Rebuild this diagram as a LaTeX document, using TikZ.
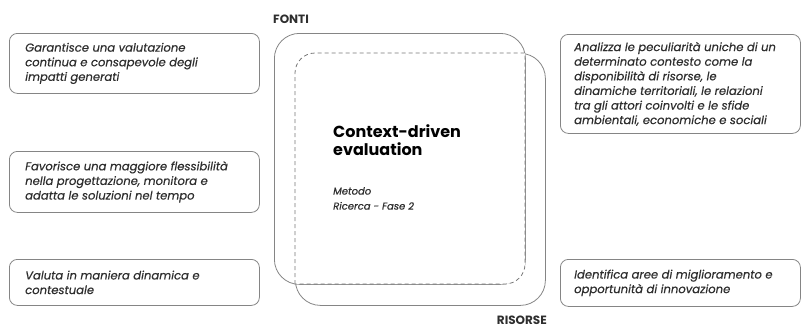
\documentclass[tikz,border=0pt]{standalone}
\usepackage{fontspec}
\setmainfont{Poppins}
\newfontfamily\mediumfam{Poppins}[FakeBold=0.4]
\definecolor{boxline}{HTML}{858585}
\definecolor{txt}{HTML}{2E2E2E}
\tikzset{
  x=1pt, y=-1pt,
  infobox/.style={draw=boxline, line width=0.8pt, rounded corners=8pt, anchor=north west, inner sep=0pt},
  infotext/.style={anchor=west, align=left, text=txt, inner sep=0pt,
    font=\mediumfam\fontsize{11.6}{14.6}\selectfont\itshape},
  bigbox/.style={draw=boxline, line width=0.8pt, rounded corners=25pt, anchor=north west, inner sep=0pt},
  dashline/.style={draw=boxline!90!black, line width=0.8pt, dash pattern=on 4pt off 3pt, fill=white},
  lbl/.style={font=\fontsize{12}{14}\selectfont\bfseries, text=txt, inner sep=0pt}
}
\begin{document}
\begin{tikzpicture}
\useasboundingbox (0,0) rectangle (803,327);
% central shapes
\node[bigbox, minimum width=251pt, minimum height=251pt] (fonti) at (274,33) {};
\node[bigbox, minimum width=250pt, minimum height=252pt] (risorse) at (295,53) {};
\draw[dashline] (295,284) -- (295,73) arc[start angle=180, end angle=270, radius=20]
  -- (525,53) -- (525,264) arc[start angle=0, end angle=90, radius=20] -- cycle;
\node[lbl, anchor=west] (fontilbl) at (273,19) {FONTI};
\node[lbl, anchor=east] (risorselbl) at (547,320) {RISORSE};
\node[anchor=north west, align=left, inner sep=0pt, text=black, font=\fontsize{16}{18.5}\selectfont\bfseries] (title) at (333,124) {Context-driven\\evaluation};
\node[anchor=north west, align=left, inner sep=0pt, text=txt, font=\mediumfam\fontsize{10}{15}\selectfont\itshape] (sub) at (333,187) {Metodo\\Ricerca - Fase 2};
% left boxes
\node[infobox, minimum width=250pt, minimum height=60pt] (l1) at (9,33) {};
\node[infotext] (l1t) at ([xshift=16pt]l1.west) {Garantisce una valutazione\\continua e consapevole degli\\impatti generati};
\node[infobox, minimum width=250pt, minimum height=61pt] (l2) at (9,151) {};
\node[infotext] (l2t) at ([xshift=16pt]l2.west) {Favorisce una maggiore flessibilità\\nella progettazione, monitora e\\adatta le soluzioni nel tempo};
\node[infobox, minimum width=250pt, minimum height=46pt] (l3) at (9,259) {};
\node[infotext] (l3t) at ([xshift=16pt]l3.west) {Valuta in maniera dinamica e\\contestuale};
% right boxes
\node[infobox, minimum width=240pt, minimum height=99pt] (r1) at (560,34) {};
\node[infotext] (r1t) at ([xshift=14pt]r1.west) {Analizza le peculiarità uniche di un\\determinato contesto come la\\disponibilità di risorse, le\\dinamiche territoriali, le relazioni\\tra gli attori coinvolti e le sfide\\ambientali, economiche e sociali};
\node[infobox, minimum width=240pt, minimum height=47pt] (r2) at (560,259) {};
\node[infotext] (r2t) at ([xshift=14pt]r2.west) {Identifica aree di miglioramento e\\opportunità di innovazione};
\end{tikzpicture}
\end{document}
